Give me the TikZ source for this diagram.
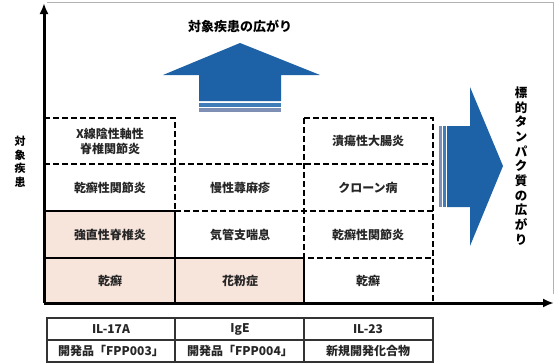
\documentclass[tikz,border=0pt]{standalone}
\usepackage{fontspec}
\newfontfamily\jpfont{Noto Sans CJK JP}
\usetikzlibrary{arrows.meta}
\definecolor{arrowblue}{HTML}{1D62A6}
\definecolor{stripeblue}{HTML}{3F7DB8}
\definecolor{stripegray}{HTML}{7D8FB4}
\definecolor{cellpink}{HTML}{F7E4DB}
\tikzset{
  cell/.style={font=\jpfont\bfseries\fontsize{12}{15}\selectfont, text=black!85, align=center, inner sep=0pt},
  label/.style={font=\jpfont\bfseries\fontsize{13}{14.5}\selectfont, align=center, inner sep=0pt},
  dashline/.style={line width=2pt, dash pattern=on 6pt off 3pt},
  solidline/.style={line width=2pt},
  axis/.style={line width=3pt, -{Latex[length=11pt,width=9pt]}}
}

\begin{document}
\begin{tikzpicture}[x=1pt,y=-1pt]
\useasboundingbox (0,0) rectangle (555,364);
\draw [gray!60, line width=0.8pt] (47,2)--(553,2)--(553,294);

% shaded cells
\fill [cellpink] (44,211) rectangle (175,303);
\fill [cellpink] (175,258) rectangle (304,303);

% arrows
\fill [arrowblue] (199,101)--(199,75)--(163,75)--(240,43)--(320,75)--(281,75)--(281,101)--cycle;
\fill [stripeblue] (199,103) rectangle (281,106.5);
\fill [stripegray] (199,108) rectangle (281,111.5);
\fill [arrowblue] (447,126)--(470,126)--(470,87)--(503,166)--(470,246)--(470,207)--(447,207)--cycle;
\fill [stripeblue] (443,126) rectangle (446,207);
\fill [stripegray] (438.5,126) rectangle (441.5,207);

% grid
\draw [dashline] (44,118)--(175,118)--(175,211);
\draw [dashline] (44,164)--(433,164);
\draw [dashline] (175,211)--(433,211);
\draw [dashline] (304,118)--(433,118)--(433,303);
\draw [dashline] (304,118)--(304,258)--(433,258);
\draw [solidline] (44,211)--(175,211)--(175,303);
\draw [solidline] (44,258)--(304,258)--(304,303);

% axes
\coordinate (o) at (44,303);
\coordinate (ytop) at (44,3);
\coordinate (xend) at (554,303);
\draw [axis] (o)--(ytop);
\draw [axis] (o)--(xend);

% cells
\node [cell] (xspa) at (110,141) {X線陰性軸性\\脊椎関節炎};
\node [cell] (psa1) at (110,187.5) {乾癬性関節炎};
\node [cell] (as) at (110,234.5) {強直性脊椎炎};
\node [cell] (pso1) at (110,280.5) {乾癬};
\node [cell] (csu) at (240,187.5) {慢性蕁麻疹};
\node [cell] (asthma) at (240,234.5) {気管支喘息};
\node [cell] (pollen) at (240,280.5) {花粉症};
\node [cell] (uc) at (368,141) {潰瘍性大腸炎};
\node [cell] (cd) at (368,187.5) {クローン病};
\node [cell] (psa2) at (368,234.5) {乾癬性関節炎};
\node [cell] (pso2) at (368,280.5) {乾癬};

% labels
\node [label] (disease) at (240,26) {対象疾患の広がり};
\node [label, font=\jpfont\bfseries\fontsize{11}{13.5}\selectfont] (yname) at (20,162) {対\\象\\疾\\患};
\node [label, font=\jpfont\bfseries\fontsize{12.5}{14.7}\selectfont] (protein) at (521,166) {標\\的\\タ\\ン\\パ\\ク\\質\\の\\広\\が\\り};

% table
\draw [black!80, line width=1.3pt] (47,318) rectangle (433,362);
\draw [black!80, line width=1.3pt] (47,340)--(433,340);
\draw [black!80, line width=1.3pt] (175,318)--(175,362);
\draw [black!80, line width=1.3pt] (304,318)--(304,362);
\node [cell] (il17a) at (111,329) {IL-17A};
\node [cell] (ige) at (240,329) {IgE};
\node [cell] (il23) at (368,329) {IL-23};
\node [cell] (fpp3) at (111,351) {開発品「FPP003」};
\node [cell] (fpp4) at (240,351) {開発品「FPP004」};
\node [cell] (newc) at (368,351) {新規開発化合物};

\end{tikzpicture}
\end{document}
